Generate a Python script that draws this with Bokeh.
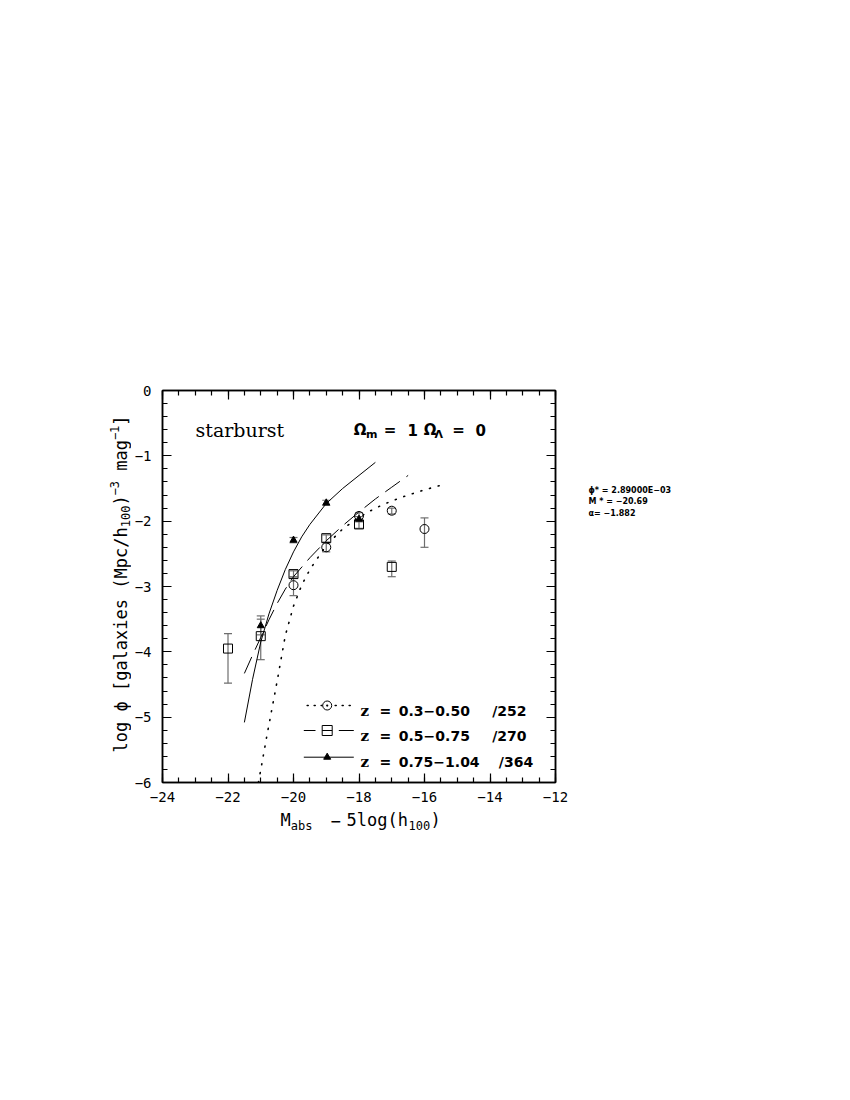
from bokeh.plotting import figure
from bokeh.models import (LinearAxis, FixedTicker, Whisker, TeeHead, ColumnDataSource,
                          Label, Range1d, CustomJSTickFormatter)
from bokeh.layouts import row, column
from bokeh.core.properties import value
from bokeh.embed import file_html
from bokeh.resources import INLINE
import math

# ---------------- data ----------------
# z = 0.3-0.50 (open circles)
circ_x = [-20, -19, -18, -17, -16]
circ_y = [-2.98, -2.40, -1.92, -1.84, -2.12]
circ_up = [-2.85, -2.33, -1.87, -1.80, -1.95]
circ_lo = [-3.14, -2.47, -1.98, -1.89, -2.40]

# z = 0.5-0.75 (open squares)
sq_x = [-22, -21, -20, -19, -18, -17]
sq_y = [-3.95, -3.76, -2.81, -2.26, -2.05, -2.70]
sq_up = [-3.72, -3.50, -2.76, -2.21, -1.99, -2.61]
sq_lo = [-4.48, -4.12, -2.87, -2.32, -2.11, -2.85]

# z = 0.75-1.04 (filled triangles)
tri_x = [-21, -20, -19, -18]
tri_y = [-3.60, -2.29, -1.72, -1.97]
tri_up = [-3.45, -2.25, -1.68, -1.93]
tri_lo = [-3.74, -2.33, -1.76, -2.01]

# fitted curves
dot_x = [-21.07, -20.8, -20.5, -20.25, -20.0, -19.75, -19.5, -19.0, -18.5, -18.0, -17.5, -17.0, -16.5, -16.0, -15.5]
dot_y = [-6.0, -5.25, -4.45, -3.75, -3.30, -2.98, -2.74, -2.37, -2.12, -1.94, -1.80, -1.69, -1.60, -1.52, -1.45]

dash_x = [-21.5, -21.25, -21.0, -20.75, -20.5, -20.25, -20.0, -19.5, -19.0, -18.5, -18.0, -17.5, -17.0, -16.5]
dash_y = [-4.33, -4.05, -3.78, -3.51, -3.26, -3.04, -2.85, -2.56, -2.30, -2.07, -1.86, -1.66, -1.48, -1.30]

sol_x = [-21.5, -21.25, -21.0, -20.75, -20.5, -20.25, -20.0, -19.75, -19.5, -19.0, -18.5, -18.0, -17.5]
sol_y = [-5.08, -4.42, -3.85, -3.42, -3.06, -2.74, -2.47, -2.24, -2.05, -1.73, -1.50, -1.30, -1.10]

legend_labels = ["0.3\u22120.50", "0.5\u22120.75", "0.75\u22121.04"]
legend_counts = ["/252", "/270", "/364"]
fit_params = ["\u03d5*  = 2.89000E\u221203", "M * = \u221220.69", "\u03b1= \u22121.882"]

x_major = [-24, -22, -20, -18, -16, -14, -12]
y_major = [-6, -5, -4, -3, -2, -1, 0]
x_minor = [-24 + 0.5 * i for i in range(25)]
y_minor = [round(-6 + 0.2 * i, 2) for i in range(31)]

# ---------------- layout geometry (canvas px) ----------------
FW, FH = 393, 392          # frame size
L, T = 162, 390            # frame left / top on the page
YLW = 131                  # width of the y-title strip
ML = L - YLW               # left border of main figure
MR = 20                    # right border of main figure
MB = 24                    # bottom border of main figure
TOPH = T + FH + MB         # height of top row
XLH = 40                   # height of the x-title strip
SIDEW = 830 - YLW - (ML + FW + MR)
FB = T + FH                # canvas y of frame bottom

MONO = "DejaVu Sans Mono"

# ---------------- main figure ----------------
p = figure(frame_width=FW, frame_height=FH, x_range=Range1d(-24, -12), y_range=Range1d(-6, 0),
           output_backend="svg", toolbar_location=None,
           min_border_left=ML, min_border_right=MR, min_border_top=T, min_border_bottom=MB,
           background_fill_color="white", border_fill_color="white")
p.grid.visible = False
p.outline_line_color = "black"
p.outline_line_width = 1.5

def X(px):
    return -24 + (px - L) * 12.0 / FW

def Y(py):
    return -(py - T) * 6.0 / FH

fmt = CustomJSTickFormatter(code="return String(tick).replace('-', '\\u2212');")
blank = CustomJSTickFormatter(code="return '';")

def style_axis(ax, major, minor, show_labels):
    ax.ticker = FixedTicker(ticks=major, minor_ticks=minor)
    ax.major_tick_in = 9
    ax.major_tick_out = 0
    ax.minor_tick_in = 5
    ax.minor_tick_out = 0
    ax.axis_line_width = 1.5
    ax.major_tick_line_width = 1.2
    ax.minor_tick_line_width = 1.2
    ax.axis_line_color = "black"
    ax.major_tick_line_color = "black"
    ax.minor_tick_line_color = "black"
    ax.axis_label_standoff = 0
    if show_labels:
        ax.formatter = fmt
        ax.major_label_text_font = MONO
        ax.major_label_text_font_size = "14px"
        ax.major_label_text_color = "black"
    else:
        ax.formatter = blank
        ax.major_label_standoff = 0

style_axis(p.xaxis[0], x_major, x_minor, True)
style_axis(p.yaxis[0], y_major, y_minor, True)
p.xaxis[0].major_label_standoff = 9
p.yaxis[0].major_label_standoff = 11
ax_top = LinearAxis()
ax_right = LinearAxis()
style_axis(ax_top, x_major, x_minor, False)
style_axis(ax_right, y_major, y_minor, False)
p.add_layout(ax_top, "above")
p.add_layout(ax_right, "right")

# curves
p.line(dot_x, dot_y, line_color="black", line_width=1.6, line_dash="1 8", line_cap="round")
p.line(dash_x, dash_y, line_color="black", line_width=1.0, line_dash="18 8")
p.line(sol_x, sol_y, line_color="black", line_width=1.0)

# error bars
GRAY = "#6e6e6e"
for xs, ys, up, lo in [(circ_x, circ_y, circ_up, circ_lo),
                       (sq_x, sq_y, sq_up, sq_lo),
                       (tri_x, tri_y, tri_up, tri_lo)]:
    src = ColumnDataSource(dict(x=xs, y=ys, up=up, lo=lo))
    w = Whisker(base="x", upper="up", lower="lo", dimension="height", source=src,
                line_color=GRAY, line_width=1.2,
                upper_head=TeeHead(size=8, line_color=GRAY, line_width=1.2),
                lower_head=TeeHead(size=8, line_color=GRAY, line_width=1.2))
    p.add_layout(w)

# markers
p.scatter(circ_x, circ_y, marker="circle", size=9, fill_alpha=0, line_color="black", line_width=1)
p.scatter(sq_x, sq_y, marker="square", size=9, fill_alpha=0, line_color="black", line_width=1)
p.scatter(tri_x, tri_y, marker="triangle", size=7, fill_color="black", line_color="black")

# legend (drawn by hand)
row_y = [Y(705), Y(730), Y(756.7)]
row_base = [Y(710), Y(735), Y(761.7)]
mx = X(326.7)
p.line([X(306.7), X(353.3)], [row_y[0], row_y[0]], line_color="black", line_width=1.6,
       line_dash="1 6", line_cap="round")
p.scatter([mx], [row_y[0]], marker="circle_dot", size=9, fill_color="white", line_color="black", line_width=1)
p.line([X(303.3), X(315)], [row_y[1], row_y[1]], line_color="black", line_width=1)
p.line([X(338.3), X(353.3)], [row_y[1], row_y[1]], line_color="black", line_width=1)
p.scatter([mx], [row_y[1]], marker="square", size=10, fill_alpha=0, line_color="black", line_width=1)
p.scatter([mx], [row_y[1]], marker="dash", size=10, line_color="black", line_width=1)
p.line([X(303.3), X(353.3)], [row_y[2], row_y[2]], line_color="black", line_width=1)
p.scatter([mx], [row_y[2]], marker="triangle", size=7, fill_color="black", line_color="black")

def dlabel(x, y, text, size, font="DejaVu Sans", style="bold"):
    p.add_layout(Label(x=x, y=y, text=text, text_font=font, text_font_style=style,
                       text_font_size=size, text_color="black", text_baseline="alphabetic"))

count_x = [X(491.7), X(491.7), X(498.3)]
for i in range(3):
    dlabel(X(360), row_base[i], "z", "15px", font="DejaVu Serif")
    dlabel(X(379), row_base[i], "=", "14px")
    dlabel(X(398.3), row_base[i], legend_labels[i], "14px")
    dlabel(count_x[i], row_base[i], legend_counts[i], "14px")

# annotations in the frame
base_top = Y(429.3)
dlabel(X(195), base_top, "starburst", "19px", font="DejaVu Serif", style="normal")
om_parts = [(353.3, "\u03a9", False), (365.5, "m", True), (383.3, "=", False), (407.0, "1", False),
            (423.3, "\u03a9", False), (434.0, "\u039b", True), (451.7, "=", False), (475.0, "0", False)]
for px, t, sub in om_parts:
    dlabel(X(px), Y(433.5) if sub else base_top, t, "11px" if sub else "15px")

# ---------------- helper figures for the texts outside the frame ----------------
def blank_fig(w, h, top, bottom):
    f = figure(width=w, height=h, x_range=Range1d(0, w), y_range=Range1d(0, h - top - bottom),
               x_axis_type=None, y_axis_type=None, output_backend="svg", toolbar_location=None,
               min_border_left=0, min_border_right=0, min_border_top=top,
               min_border_bottom=bottom, background_fill_color="white", border_fill_color="white")
    f.grid.visible = False
    f.outline_line_color = None
    return f

# y-axis title strip: frame aligned with the main frame; local y = FB - canvas y
fy = blank_fig(YLW, TOPH, T, MB)
yl_parts = [(752.0, "log \u03d5 [galaxies (Mpc/h", "n"), (526.8, "100", "sub"), (505.1, ")", "n"),
            (494.9, "\u22123", "sup"), (470.3, "mag", "n"), (439.6, "\u22121", "sup"), (425.2, "]", "n")]
for py, t, kind in yl_parts:
    bx = {"n": 120.3, "sub": 124.5, "sup": 113.5}[kind]
    fy.text(x=[bx], y=[FB - py], text=[t], angle=math.pi / 2,
            text_font=value(MONO), text_font_size="17px" if kind == "n" else "12px",
            text_color="black", text_align="left", text_baseline="alphabetic")

# side strip with fit parameters (local x = canvas x - x0)
x0 = YLW + ML + FW + MR
fs = blank_fig(SIDEW, TOPH, T, MB)
for py, t in zip([490, 501, 513], fit_params):
    fs.text(x=[588 - x0], y=[FB - py], text=[t], text_font=value("DejaVu Sans"),
            text_font_style="bold", text_font_size="8px", text_color="black",
            text_align="left", text_baseline="alphabetic")

# x-axis title strip (baselines measured from the strip's top)
fx = blank_fig(830, XLH, 0, 0)
for px, t, sub in [(280, "M", False), (290.2, "abs", True), (330, "\u2212", False),
                   (346, "5log(h", False), (408, "100", True), (430, ")", False)]:
    fx.text(x=[px], y=[XLH - (19 if sub else 13.5)], text=[t], text_font=value(MONO),
            text_font_size="12px" if sub else "17px", text_color="black",
            text_align="left", text_baseline="alphabetic")

root = column(row(fy, p, fs, spacing=0), fx, spacing=0)
open("out.html", "w").write(file_html(root, INLINE))
